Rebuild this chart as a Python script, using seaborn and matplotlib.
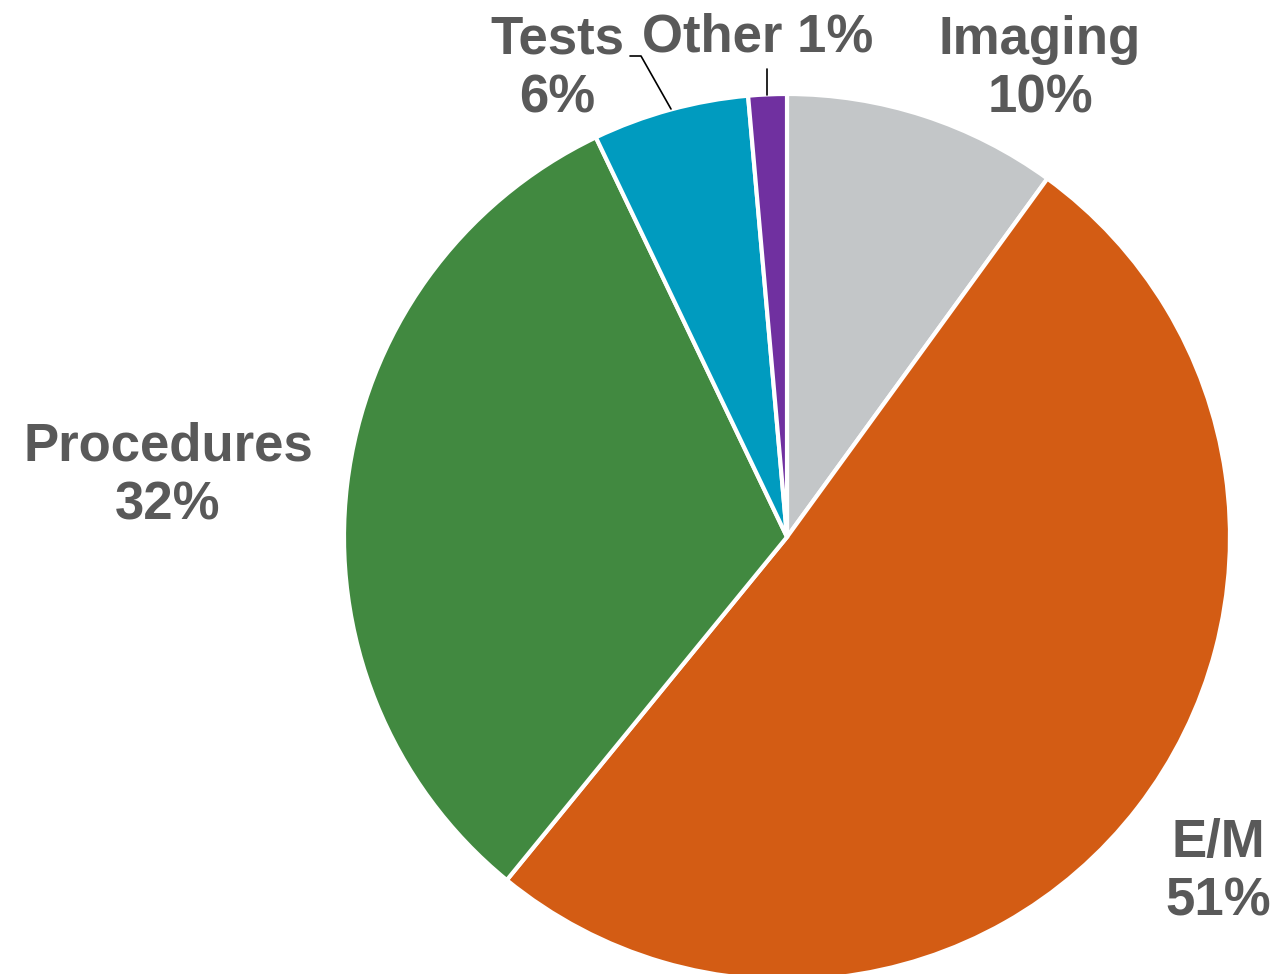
import matplotlib
matplotlib.use("Agg")
import matplotlib.pyplot as plt
import seaborn as sns

sns.set_theme(style="white")
plt.rcParams['font.family'] = ['Liberation Sans', 'DejaVu Sans']

categories = ["Imaging", "E/M", "Procedures", "Tests", "Other"]
values = [10.0, 50.9, 32.0, 5.7, 1.4]
pct_labels = ["10%", "51%", "32%", "6%", "1%"]
colors = ["#C3C6C8", "#D35C14", "#418940", "#009BBF", "#7030A0"]

W, H = 1276, 974
fig = plt.figure(figsize=(W / 100, H / 100), dpi=100)
ax = fig.add_axes([0, 0, 1, 1])

cx, cy, r = 787, H - 537, 443
ax.pie(values, colors=colors, startangle=90, counterclock=False,
       center=(cx, cy), radius=r,
       wedgeprops=dict(edgecolor="white", linewidth=3.0))
ax.set_xlim(0, W)
ax.set_ylim(0, H)
ax.set_aspect("auto")
ax.axis("off")

tc = "#595959"
fs = 38
kw = dict(color=tc, fontsize=fs, fontweight="bold", ha="center", va="center",
          linespacing=1.22)

def y(p):
    return H - p

ax.text(1040, y(69), f"{categories[0]}\n{pct_labels[0]}", **kw)
ax.text(1218, y(872), f"{categories[1]}\n{pct_labels[1]}", **kw)
ax.text(168, y(476), f"{categories[2]}\n{pct_labels[2]}", **kw)
ax.text(557, y(69), f"{categories[3]}\n{pct_labels[3]}", **kw)
ax.text(758, y(38), f"{categories[4]} {pct_labels[4]}", **kw)

# leader lines
ax.plot([630, 641, 671], [y(56), y(56), y(109)], color="black", lw=1.2)
ax.plot([767, 767], [y(69), y(95)], color="black", lw=1.2)

fig.savefig("out.png", dpi=100, facecolor="white")
